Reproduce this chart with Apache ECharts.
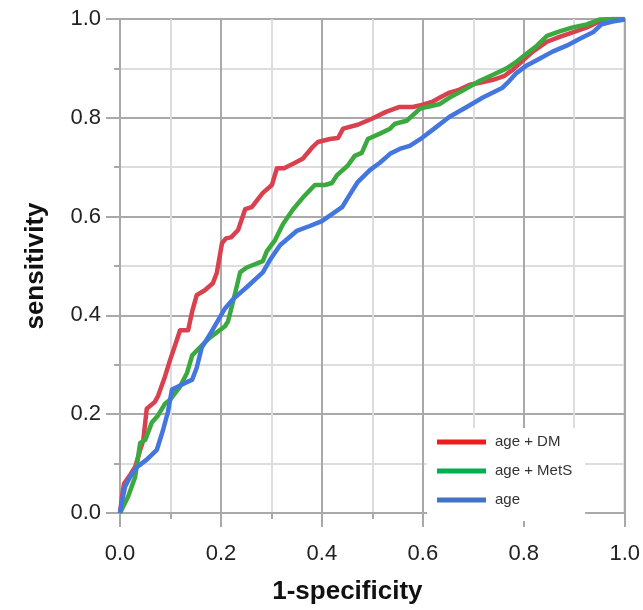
<!DOCTYPE html>
<html>
<head>
<meta charset="utf-8">
<script src="https://cdn.jsdelivr.net/npm/echarts@6/dist/echarts.min.js"></script>
<style>html,body{margin:0;padding:0;background:#fff}#c{width:643px;height:610px}</style>
</head>
<body>
<div id="c"></div>
<script>
const seriesNames = ['age + DM', 'age + MetS', 'age'];
const lineColors = ['#d9414f', '#3aaa3e', '#4476df'];
const legendColors = ['#ee1c1c', '#00b050', '#4472c4'];

const ageDM = [
 [0,0],[0.004,0.033],[0.008,0.059],[0.020,0.077],[0.030,0.093],[0.040,0.128],[0.046,0.146],
 [0.053,0.211],[0.069,0.225],[0.075,0.236],[0.089,0.276],[0.099,0.309],[0.109,0.339],[0.119,0.370],
 [0.135,0.370],[0.143,0.408],[0.152,0.441],[0.168,0.451],[0.184,0.465],[0.192,0.487],[0.202,0.546],
 [0.210,0.556],[0.220,0.558],[0.234,0.573],[0.248,0.615],[0.261,0.619],[0.283,0.648],[0.301,0.664],
 [0.311,0.698],[0.325,0.698],[0.343,0.707],[0.362,0.717],[0.380,0.739],[0.392,0.751],[0.416,0.757],
 [0.432,0.759],[0.442,0.778],[0.471,0.786],[0.499,0.798],[0.527,0.812],[0.554,0.822],[0.580,0.822],
 [0.598,0.826],[0.618,0.832],[0.634,0.841],[0.653,0.851],[0.673,0.857],[0.693,0.867],[0.713,0.871],
 [0.739,0.877],[0.762,0.885],[0.778,0.897],[0.798,0.916],[0.818,0.934],[0.846,0.954],[0.871,0.964],
 [0.897,0.973],[0.925,0.983],[0.950,0.995],[0.976,1.0],[1.0,1.0]
];
const ageMetS = [
 [0,0],[0.016,0.033],[0.030,0.073],[0.040,0.142],[0.050,0.148],[0.063,0.183],[0.075,0.197],
 [0.089,0.221],[0.099,0.229],[0.119,0.256],[0.133,0.284],[0.143,0.319],[0.158,0.335],[0.178,0.355],
 [0.208,0.378],[0.214,0.388],[0.224,0.428],[0.238,0.487],[0.251,0.497],[0.283,0.510],[0.291,0.530],
 [0.307,0.552],[0.323,0.585],[0.343,0.615],[0.362,0.638],[0.386,0.664],[0.406,0.664],[0.420,0.668],
 [0.430,0.684],[0.451,0.703],[0.465,0.723],[0.479,0.729],[0.491,0.757],[0.515,0.768],[0.535,0.778],
 [0.545,0.788],[0.568,0.794],[0.594,0.818],[0.608,0.822],[0.634,0.828],[0.653,0.841],[0.679,0.855],
 [0.713,0.875],[0.739,0.887],[0.766,0.900],[0.786,0.914],[0.806,0.930],[0.826,0.946],[0.846,0.966],
 [0.871,0.975],[0.897,0.983],[0.925,0.989],[0.950,0.999],[0.976,1.0],[1.0,1.0]
];
const ageOnly = [
 [0,0],[0.004,0.024],[0.010,0.053],[0.020,0.073],[0.034,0.093],[0.053,0.108],[0.073,0.128],
 [0.085,0.167],[0.095,0.205],[0.103,0.250],[0.123,0.260],[0.143,0.270],[0.152,0.294],[0.162,0.335],
 [0.182,0.368],[0.208,0.414],[0.224,0.433],[0.251,0.457],[0.283,0.487],[0.297,0.512],[0.317,0.542],
 [0.350,0.571],[0.376,0.581],[0.400,0.591],[0.420,0.605],[0.440,0.619],[0.455,0.644],[0.471,0.670],
 [0.495,0.694],[0.515,0.709],[0.535,0.727],[0.554,0.737],[0.574,0.743],[0.598,0.759],[0.620,0.776],
 [0.653,0.802],[0.687,0.822],[0.719,0.841],[0.758,0.861],[0.768,0.871],[0.786,0.891],[0.806,0.906],
 [0.832,0.920],[0.857,0.934],[0.885,0.946],[0.911,0.960],[0.937,0.973],[0.954,0.989],[0.976,0.995],
 [1.0,0.999]
];
const allData = [ageDM, ageMetS, ageOnly];

const chart = echarts.init(document.getElementById('c'), null, {renderer: 'canvas'});
const gridGray = '#a9a9a9';
const minorGray = '#dddddd';
const FONT = '"Liberation Sans", Arial, Helvetica, sans-serif';

function axisCommon(labelMargin) {
  return {
    type: 'value', min: 0, max: 1, interval: 0.2,
    axisLine: {show: true, lineStyle: {color: gridGray, width: 2}},
    axisTick: {show: true, length: 14, lineStyle: {color: gridGray, width: 2}},
    minorTick: {show: true, splitNumber: 2, length: 6, lineStyle: {color: gridGray, width: 2}},
    splitLine: {show: true, lineStyle: {color: gridGray, width: 2}},
    minorSplitLine: {show: true, lineStyle: {color: minorGray, width: 2}},
    axisLabel: {margin: labelMargin, formatter: v => v.toFixed(1), color: '#222', fontSize: 22, fontFamily: FONT},
    nameLocation: 'middle'
  };
}

const xAxis = Object.assign(axisCommon(30), {
  name: '1-specificity', nameGap: 66,
  nameTextStyle: {fontSize: 26, fontWeight: 'bold', color: '#111', fontFamily: FONT, padding: [0, 50, 0, 0]}
});
const yAxis = Object.assign(axisCommon(19), {
  name: 'sensitivity', nameGap: 71,
  nameTextStyle: {fontSize: 26, fontWeight: 'bold', color: '#111', fontFamily: FONT}
});

chart.setOption({
  animation: false,
  backgroundColor: '#fff',
  grid: {left: 120, right: 18, top: 19, bottom: 83, show: true, borderColor: gridGray, borderWidth: 2, backgroundColor: 'transparent'},
  xAxis: xAxis,
  yAxis: yAxis,
  legend: {
    orient: 'vertical', left: 427, top: 428,
    backgroundColor: '#fff',
    padding: [5, 13, 12, 10],
    itemWidth: 49, itemHeight: 5, itemGap: 11,
    icon: 'rect',
    textStyle: {fontSize: 15, color: '#333', fontFamily: FONT, lineHeight: 18, padding: [0, 0, 0, 4]},
    data: seriesNames.map((n, i) => ({name: n, itemStyle: {color: legendColors[i], borderWidth: 0}}))
  },
  series: seriesNames.map((n, i) => ({
    name: n, type: 'line', data: allData[i], showSymbol: false, symbol: 'none',
    itemStyle: {color: legendColors[i]},
    lineStyle: {color: lineColors[i], width: 4.5, join: 'round'},
    z: 2 + i
  }))
});
</script>
</body>
</html>
